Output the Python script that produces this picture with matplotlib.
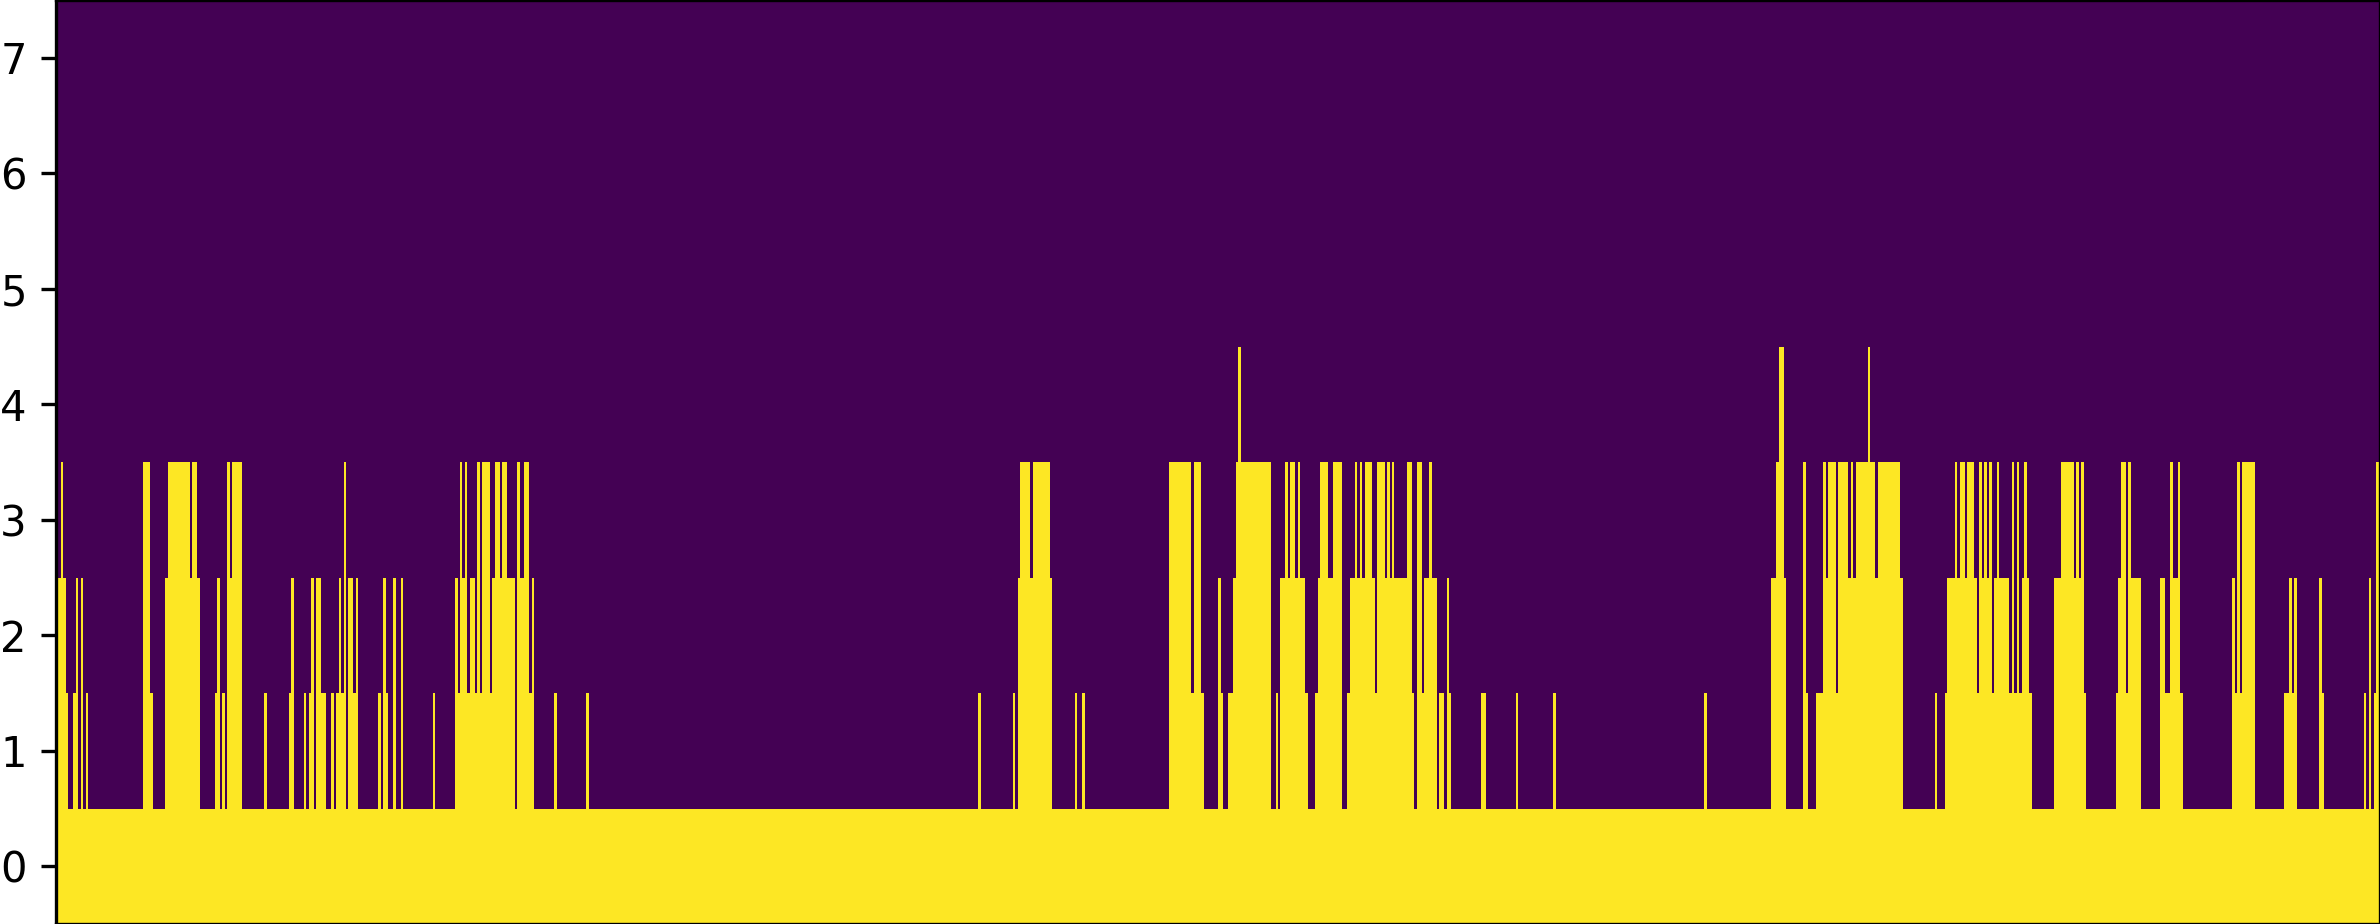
import numpy as np
import matplotlib
matplotlib.use("Agg")
import matplotlib.pyplot as plt

n_rows = 8
n_cols = 2323

# runs of filled columns (start, stop) for each row; row 0 is filled everywhere
row0 = [(0, 2323)]
row1 = [(0, 11), (16, 21), (24, 26), (29, 31), (86, 96), (108, 143), (158, 163), (165, 168),
        (170, 185), (207, 210), (232, 237), (247, 249), (252, 257), (259, 269), (274, 277),
        (279, 289), (291, 301), (321, 324), (326, 331), (336, 339), (344, 346), (376, 378),
        (398, 458), (460, 477), (497, 500), (529, 532), (921, 924), (956, 958), (961, 995),
        (1018, 1020), (1025, 1028), (1112, 1147), (1161, 1166), (1171, 1214), (1219, 1221),
        (1223, 1251), (1258, 1285), (1290, 1357), (1360, 1380), (1382, 1387), (1390, 1394),
        (1424, 1429), (1459, 1461), (1496, 1499), (1647, 1650), (1714, 1729), (1746, 1751),
        (1759, 1846), (1878, 1880), (1888, 1975), (1997, 2029), (2059, 2084), (2103, 2126),
        (2175, 2198), (2227, 2240), (2262, 2267), (2307, 2309), (2312, 2314), (2317, 2323)]
row2 = [(0, 9), (19, 21), (24, 26), (86, 93), (108, 143), (160, 163), (170, 185), (234, 237),
        (254, 257), (259, 264), (282, 284), (287, 289), (291, 296), (299, 301), (326, 329),
        (336, 339), (344, 346), (398, 401), (403, 410), (413, 418), (420, 423), (425, 433),
        (435, 458), (460, 472), (475, 477), (961, 995), (1112, 1134), (1137, 1144),
        (1161, 1164), (1176, 1214), (1223, 1248), (1261, 1285), (1293, 1318), (1320, 1355),
        (1360, 1365), (1367, 1380), (1390, 1392), (1714, 1729), (1746, 1749), (1766, 1779),
        (1781, 1846), (1890, 1920), (1922, 1935), (1937, 1952), (1955, 1957), (1960, 1962),
        (1965, 1972), (1997, 2027), (2061, 2069), (2071, 2084), (2103, 2108), (2113, 2123),
        (2175, 2178), (2180, 2183), (2185, 2198), (2232, 2235), (2237, 2240), (2262, 2265),
        (2312, 2314), (2319, 2323)]
row3 = [(4, 6), (86, 93), (111, 133), (135, 140), (170, 173), (175, 185), (287, 289), (403, 405),
        (408, 410), (420, 423), (425, 433), (438, 443), (445, 450), (460, 463), (467, 472),
        (963, 973), (976, 993), (1112, 1134), (1137, 1144), (1179, 1214), (1228, 1231),
        (1233, 1238), (1241, 1243), (1263, 1271), (1276, 1285), (1298, 1300), (1303, 1305),
        (1308, 1315), (1320, 1328), (1330, 1333), (1335, 1337), (1350, 1355), (1360, 1365),
        (1372, 1375), (1719, 1727), (1746, 1749), (1766, 1769), (1771, 1779), (1781, 1791),
        (1794, 1796), (1799, 1818), (1821, 1843), (1898, 1900), (1903, 1908), (1910, 1917),
        (1922, 1925), (1927, 1930), (1932, 1935), (1940, 1942), (1955, 1957), (1960, 1962),
        (1967, 1970), (2004, 2017), (2019, 2022), (2024, 2027), (2064, 2069), (2071, 2074),
        (2113, 2116), (2121, 2123), (2180, 2183), (2185, 2198), (2319, 2323)]
row4 = [(1181, 1184), (1722, 1727), (1811, 1813)]

rows = [row0, row1, row2, row3, row4]

grid = np.zeros((n_rows, n_cols))
for r, runs in enumerate(rows):
    for start, stop in runs:
        grid[r, start:stop] = 1

fig = plt.figure(figsize=(2380 / 300, 924 / 300), dpi=300)
ax = fig.add_axes([56 / 2380, 0, 1 - 56 / 2380, 1])
ax.imshow(grid, origin="lower", aspect="auto", cmap="viridis", interpolation="nearest")
ax.set_xlim(-1.5, n_cols - 0.5)
ax.set_xticks([])
ax.set_yticks(range(n_rows))

fig.savefig("out.png", dpi=300)
